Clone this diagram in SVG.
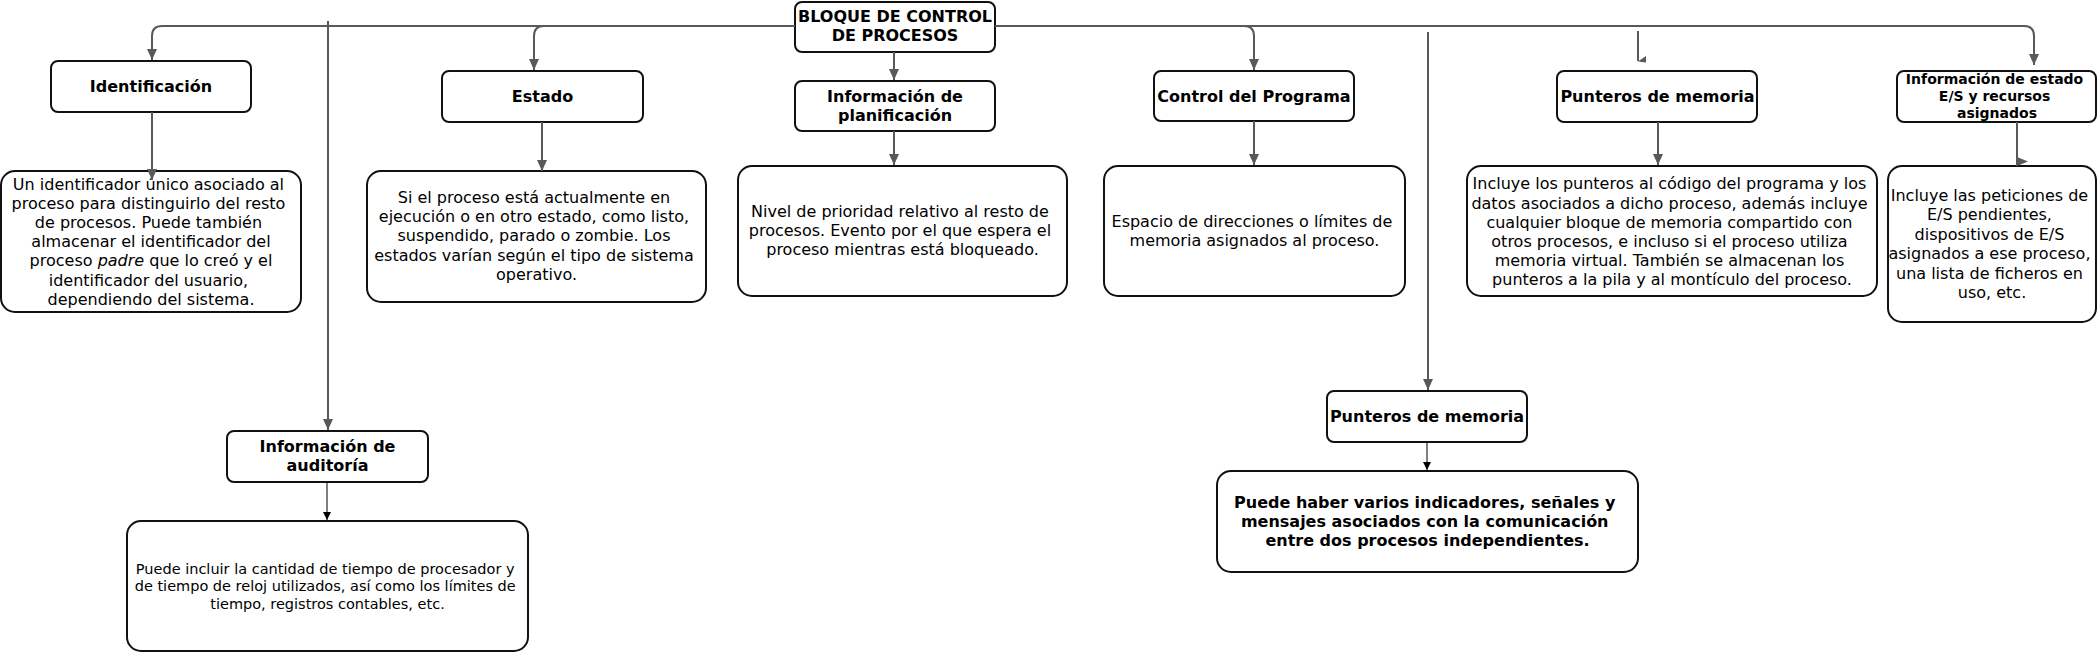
<svg xmlns="http://www.w3.org/2000/svg" width="2098" height="652" viewBox="0 0 2098 652">
<style>
.box{fill:#fff;stroke:#111;stroke-width:2}
.t{font-family:"DejaVu Sans",Verdana,sans-serif;fill:#000;text-anchor:middle}
.b{font-weight:bold;font-size:16px}
.s{font-weight:bold;font-size:14px}
.r{font-size:16px}
.q{font-size:14.5px}
.c{fill:none;stroke:#595959;stroke-width:2}
.k{fill:none;stroke:#000;stroke-width:1}
</style>
<defs>
<marker id="ag" markerUnits="userSpaceOnUse" markerWidth="11" markerHeight="10" viewBox="0 0 11 10" refX="11" refY="5" orient="auto"><path d="M0,0 L11,5 L0,10 z" fill="#595959"/></marker>
<marker id="ak" markerUnits="userSpaceOnUse" markerWidth="8" markerHeight="8" viewBox="0 0 8 8" refX="8" refY="4" orient="auto"><path d="M0,0 L8,4 L0,8 z" fill="#000"/></marker>
</defs>
<rect width="2098" height="652" fill="#fff"/>

<g id="n-bloque">
<rect class="box" x="795" y="2" width="200" height="50" rx="7"/>
<text class="t b"><tspan x="895" y="22">BLOQUE DE CONTROL</tspan><tspan x="895" y="41">DE PROCESOS</tspan></text>
</g>

<g id="n-identificacion">
<rect class="box" x="51" y="61" width="200" height="51" rx="7"/>
<text class="t b" x="151" y="92">Identificación</text>
</g>
<g id="n-identificacion-desc">
<rect class="box" x="1" y="171" width="300" height="141" rx="14"/>
<text class="t r">
<tspan x="151" y="189.5">Un identificador único asociado al</tspan>
<tspan x="151" y="208.7">proceso para distinguirlo del resto</tspan>
<tspan x="151" y="227.9">de procesos. Puede también</tspan>
<tspan x="151" y="247.1">almacenar el identificador del</tspan>
</text>
<text class="t r" x="151" y="266.3">proceso <tspan font-style="italic">padre</tspan> que lo creó y el</text>
<text class="t r">
<tspan x="151" y="285.5">identificador del usuario,</tspan>
<tspan x="151" y="304.7">dependiendo del sistema.</tspan>
</text>
</g>

<g id="n-estado">
<rect class="box" x="442" y="71" width="201" height="51" rx="7"/>
<text class="t b" x="542.5" y="102">Estado</text>
</g>
<g id="n-estado-desc">
<rect class="box" x="367" y="171" width="339" height="131" rx="14"/>
<text class="t r">
<tspan x="536.5" y="202.7">Si el proceso está actualmente en</tspan>
<tspan x="536.5" y="222">ejecución o en otro estado, como listo,</tspan>
<tspan x="536.5" y="241.3">suspendido, parado o zombie. Los</tspan>
<tspan x="536.5" y="260.6">estados varían según el tipo de sistema</tspan>
<tspan x="536.5" y="279.9">operativo.</tspan>
</text>
</g>

<g id="n-auditoria">
<rect class="box" x="227" y="431" width="201" height="51" rx="7"/>
<text class="t b"><tspan x="327.5" y="452.3">Información de</tspan><tspan x="327.5" y="471.3">auditoría</tspan></text>
</g>
<g id="n-auditoria-desc">
<rect class="box" x="127" y="521" width="401" height="130" rx="14"/>
<text class="t q">
<tspan x="327.5" y="573.6">Puede incluir la cantidad de tiempo de procesador y</tspan>
<tspan x="327.5" y="591.3">de tiempo de reloj utilizados, así como los límites de</tspan>
<tspan x="327.5" y="609">tiempo, registros contables, etc.</tspan>
</text>
</g>

<g id="n-planificacion">
<rect class="box" x="795" y="81" width="200" height="50" rx="7"/>
<text class="t b"><tspan x="895" y="102">Información de</tspan><tspan x="895" y="121">planificación</tspan></text>
</g>
<g id="n-planificacion-desc">
<rect class="box" x="738" y="166" width="329" height="130" rx="14"/>
<text class="t r">
<tspan x="902.5" y="217">Nivel de prioridad relativo al resto de</tspan>
<tspan x="902.5" y="236.2">procesos. Evento por el que espera el</tspan>
<tspan x="902.5" y="255.4">proceso mientras está bloqueado.</tspan>
</text>
</g>

<g id="n-control">
<rect class="box" x="1154" y="71" width="200" height="50" rx="7"/>
<text class="t b" x="1254" y="102">Control del Programa</text>
</g>
<g id="n-control-desc">
<rect class="box" x="1104" y="166" width="301" height="130" rx="14"/>
<text class="t r">
<tspan x="1254.5" y="227">Espacio de direcciones o límites de</tspan>
<tspan x="1254.5" y="246.2">memoria asignados al proceso.</tspan>
</text>
</g>

<g id="n-punteros2">
<rect class="box" x="1327" y="391" width="200" height="51" rx="7"/>
<text class="t b" x="1427" y="422">Punteros de memoria</text>
</g>
<g id="n-punteros2-desc">
<rect class="box" x="1217" y="471" width="421" height="101" rx="14"/>
<text class="t b">
<tspan x="1427.5" y="507.7">Puede haber varios indicadores, señales y</tspan>
<tspan x="1427.5" y="526.8">mensajes asociados con la comunicación</tspan>
<tspan x="1427.5" y="545.9">entre dos procesos independientes.</tspan>
</text>
</g>

<g id="n-punteros">
<rect class="box" x="1557" y="71" width="200" height="51" rx="7"/>
<text class="t b" x="1657.5" y="102">Punteros de memoria</text>
</g>
<g id="n-punteros-desc">
<rect class="box" x="1467" y="166" width="410" height="130" rx="14"/>
<text class="t r">
<tspan x="1672" y="189.3">Incluye los punteros al código del programa y los</tspan>
<tspan x="1672" y="208.5">datos asociados a dicho proceso, además incluye</tspan>
<tspan x="1672" y="227.7">cualquier bloque de memoria compartido con</tspan>
<tspan x="1672" y="246.9">otros procesos, e incluso si el proceso utiliza</tspan>
<tspan x="1672" y="266.1">memoria virtual. También se almacenan los</tspan>
<tspan x="1672" y="285.3">punteros a la pila y al montículo del proceso.</tspan>
</text>
</g>

<g id="n-es">
<rect class="box" x="1897" y="71" width="199" height="51" rx="7"/>
<text class="t s">
<tspan x="1997" y="84">Información de estado</tspan>
<tspan x="1997" y="101">E/S y recursos</tspan>
<tspan x="1997" y="117.7">asignados</tspan>
</text>
</g>
<g id="n-es-desc">
<rect class="box" x="1888" y="166" width="208" height="156" rx="14"/>
<text class="t r">
<tspan x="1992" y="201">Incluye las peticiones de</tspan>
<tspan x="1992" y="220.4">E/S pendientes,</tspan>
<tspan x="1992" y="239.8">dispositivos de E/S</tspan>
<tspan x="1992" y="259.2">asignados a ese proceso,</tspan>
<tspan x="1992" y="278.6">una lista de ficheros en</tspan>
<tspan x="1992" y="298">uso, etc.</tspan>
</text>
</g>

<g id="connectors">
<path class="c" d="M795,26 H162 Q152,26 152,36 V60" marker-end="url(#ag)"/>
<path class="c" d="M795,26 H544 Q534,26 534,36 V70" marker-end="url(#ag)"/>
<path class="c" d="M894,52 V80" marker-end="url(#ag)"/>
<path class="c" d="M995,26 H1244 Q1254,26 1254,36 V70" marker-end="url(#ag)"/>
<path class="c" d="M995,26 H2024 Q2034,26 2034,36 V65" marker-end="url(#ag)"/>
<path class="c" d="M328,21 V430" marker-end="url(#ag)"/>
<path class="c" d="M1428,32 V390" marker-end="url(#ag)"/>
<path class="c" d="M1638,31 V61"/>
<polygon points="1638,61.5 1646,56 1646,62.5" fill="#595959"/>
<path class="c" d="M152,112 V180" marker-end="url(#ag)"/>
<path class="c" d="M542,122 V171" marker-end="url(#ag)"/>
<path class="c" d="M894,131 V165" marker-end="url(#ag)"/>
<path class="c" d="M1254,121 V165" marker-end="url(#ag)"/>
<path class="c" d="M1658,122 V165" marker-end="url(#ag)"/>
<path class="c" d="M2017,122 V166"/>
<polygon points="2017,157 2028,161.5 2017,166" fill="#595959"/>
<path class="k" d="M327,482 V520" marker-end="url(#ak)"/>
<path class="k" d="M1427,442 V470" marker-end="url(#ak)"/>
</g>
</svg>
